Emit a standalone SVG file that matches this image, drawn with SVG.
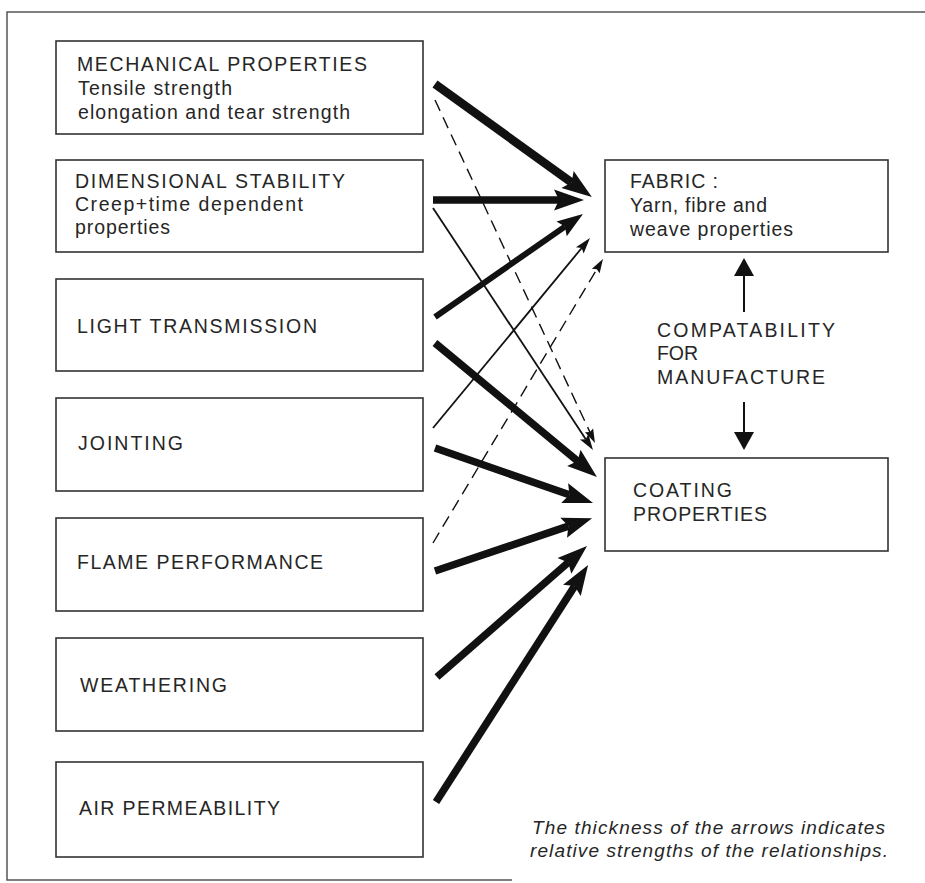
<svg xmlns="http://www.w3.org/2000/svg" width="925" height="883" viewBox="0 0 925 883">
<style>
.bg{fill:#ffffff}
.frame{fill:none;stroke:#555;stroke-width:1.5}
.box{fill:none;stroke:#333;stroke-width:1.6}
.lbl{font-family:"Liberation Sans",Arial,sans-serif;font-size:19.5px;fill:#262626}
.note{font-family:"Liberation Sans",Arial,sans-serif;font-size:19px;font-style:italic;fill:#262626}
.sh{fill:none;stroke:#111;stroke-linecap:butt}
.w8{stroke-width:8.5}
.w7{stroke-width:7.5}
.w6{stroke-width:6}
.thin{stroke-width:1.8}
.dash{stroke-width:1.4;stroke-dasharray:12 7}
.hd{fill:#111;stroke:none}
</style>
<defs>
<marker id="hThick" markerUnits="userSpaceOnUse" viewBox="0 -10.5 30 21" markerWidth="30" markerHeight="21" refX="5" refY="0" orient="auto" overflow="visible"><path class="hd" d="M0,-10.5 L30,0 L0,10.5 L5,0 z"/></marker>
<marker id="hMed" markerUnits="userSpaceOnUse" viewBox="0 -9 26 18" markerWidth="26" markerHeight="18" refX="4" refY="0" orient="auto" overflow="visible"><path class="hd" d="M0,-9 L26,0 L0,9 L4,0 z"/></marker>
<marker id="hThin" markerUnits="userSpaceOnUse" viewBox="0 -5 16 10" markerWidth="16" markerHeight="10" refX="3" refY="0" orient="auto" overflow="visible"><path class="hd" d="M0,-5 L16,0 L0,5 L3,0 z"/></marker>
<marker id="hDash" markerUnits="userSpaceOnUse" viewBox="0 -4.5 14 9" markerWidth="14" markerHeight="9" refX="2" refY="0" orient="auto" overflow="visible"><path class="hd" d="M0,-4.5 L14,0 L0,4.5 L2,0 z"/></marker>
<marker id="hV" markerUnits="userSpaceOnUse" viewBox="0 -10 18 20" markerWidth="18" markerHeight="20" refX="0" refY="0" orient="auto" overflow="visible"><path class="hd" d="M0,-10 L18,0 L0,10 z"/></marker>
</defs>
<rect class="bg" x="0" y="0" width="925" height="883"/>
<path class="frame" d="M925,12 L7,12 L7,880 L512,880"/>

<g id="mechanical">
<rect class="box" x="56" y="41" width="367" height="93"/>
<text class="lbl" x="77" y="71" textLength="290">MECHANICAL PROPERTIES</text>
<text class="lbl" x="78" y="95" textLength="154">Tensile strength</text>
<text class="lbl" x="78" y="119" textLength="272">elongation and tear strength</text>
</g>
<g id="dimensional">
<rect class="box" x="56" y="160" width="367" height="92"/>
<text class="lbl" x="75" y="188" textLength="270">DIMENSIONAL STABILITY</text>
<text class="lbl" x="75" y="211" textLength="228">Creep+time dependent</text>
<text class="lbl" x="75" y="234" textLength="95">properties</text>
</g>
<g id="light">
<rect class="box" x="56" y="279" width="367" height="92"/>
<text class="lbl" x="77" y="333" textLength="240">LIGHT TRANSMISSION</text>
</g>
<g id="jointing">
<rect class="box" x="56" y="398" width="367" height="93"/>
<text class="lbl" x="78" y="450" textLength="105">JOINTING</text>
</g>
<g id="flame">
<rect class="box" x="56" y="518" width="367" height="93"/>
<text class="lbl" x="77" y="569" textLength="246">FLAME PERFORMANCE</text>
</g>
<g id="weathering">
<rect class="box" x="56" y="638" width="367" height="93"/>
<text class="lbl" x="80" y="692" textLength="147">WEATHERING</text>
</g>
<g id="air">
<rect class="box" x="56" y="762" width="367" height="95"/>
<text class="lbl" x="79" y="815" textLength="201">AIR PERMEABILITY</text>
</g>
<g id="fabric">
<rect class="box" x="605" y="160" width="283" height="92"/>
<text class="lbl" x="630" y="188" textLength="88">FABRIC :</text>
<text class="lbl" x="630" y="212" textLength="137">Yarn, fibre and</text>
<text class="lbl" x="630" y="236" textLength="163">weave properties</text>
</g>
<g id="coating">
<rect class="box" x="605" y="458" width="283" height="93"/>
<text class="lbl" x="633" y="497" textLength="99">COATING</text>
<text class="lbl" x="633" y="521" textLength="134">PROPERTIES</text>
</g>
<g id="compatability">
<text class="lbl" x="657" y="337" textLength="178">COMPATABILITY</text>
<text class="lbl" x="657" y="360" textLength="41">FOR</text>
<text class="lbl" x="657" y="384" textLength="168">MANUFACTURE</text>
</g>
<g id="note">
<text class="note" x="532" y="834" textLength="353">The thickness of the arrows indicates</text>
<text class="note" x="530" y="857" textLength="358">relative strengths of the relationships.</text>
</g>

<g id="connectors">
<line class="sh w8" x1="435" y1="84" x2="571.6" y2="182.5" marker-end="url(#hThick)"/>
<line class="sh dash" x1="435" y1="100" x2="589.9" y2="432.1" marker-end="url(#hDash)"/>
<line class="sh w7" x1="433" y1="200" x2="559" y2="200" marker-end="url(#hThick)"/>
<line class="sh thin" x1="433" y1="208" x2="585.8" y2="439.2" marker-end="url(#hThin)"/>
<line class="sh w6" x1="435" y1="317" x2="564.9" y2="226.6" marker-end="url(#hMed)"/>
<line class="sh w7" x1="435" y1="343" x2="577.7" y2="461.1" marker-end="url(#hThick)"/>
<line class="sh thin" x1="433" y1="428" x2="581.7" y2="248.0" marker-end="url(#hThin)"/>
<line class="sh w7" x1="435" y1="448" x2="569.4" y2="494.8" marker-end="url(#hThick)"/>
<line class="sh dash" x1="433" y1="543" x2="596.8" y2="269.3" marker-end="url(#hDash)"/>
<line class="sh w7" x1="435" y1="571" x2="568.4" y2="526.1" marker-end="url(#hThick)"/>
<line class="sh w7" x1="437" y1="677" x2="568.2" y2="562.5" marker-end="url(#hThick)"/>
<line class="sh w7" x1="436" y1="802" x2="574.6" y2="586.1" marker-end="url(#hThick)"/>
<line class="sh" stroke-width="2" x1="744" y1="312" x2="744" y2="276" marker-end="url(#hV)"/>
<line class="sh" stroke-width="2" x1="744" y1="402" x2="744" y2="432" marker-end="url(#hV)"/>
</g>
</svg>
